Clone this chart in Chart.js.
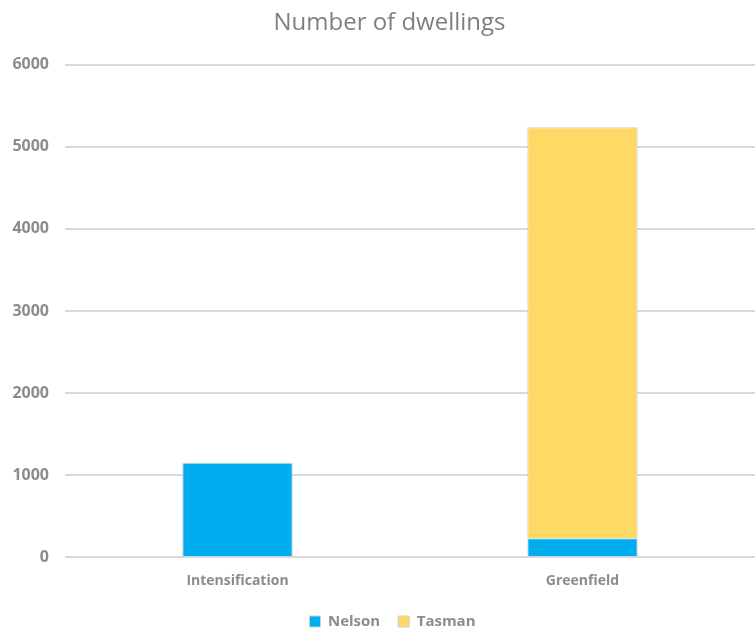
<!DOCTYPE html>
<html lang="en">
<head>
  <meta charset="UTF-8" />
  <title>Number of dwellings</title>
  <script src="https://cdn.jsdelivr.net/npm/chart.js"></script>
  <style>
    html, body { margin: 0; padding: 0; background: #fff; }
    #wrap { width: 755px; height: 633px; }
  </style>
</head>
<body>
  <div id="wrap"><canvas id="dwellChart" width="755" height="633"></canvas></div>

  <script>
    const categories = ['Intensification', 'Greenfield'];
    const nelson = [1150, 230];
    const tasman = [0, 5010];
    const yTicks = [0, 1000, 2000, 3000, 4000, 5000, 6000];

    const grey = '#8c8c8c';
    const fontFamily = '"Open Sans", sans-serif';

    // title and legend in the original sit a bit right of the canvas centre
    const nudge = {
      id: 'nudge',
      afterLayout(chart) {
        if (chart.titleBlock) { chart.titleBlock.left += 12; chart.titleBlock.right += 12; }
        if (chart.legend) { chart.legend.left += 15; chart.legend.right += 15; }
      }
    };

    new Chart(document.getElementById('dwellChart'), {
      type: 'bar',
      data: {
        labels: categories,
        datasets: [
          {
            label: 'Nelson',
            data: nelson,
            backgroundColor: '#00AEEF',
            borderColor: '#cfcfcf',
            borderWidth: 1
          },
          {
            label: 'Tasman',
            data: tasman,
            backgroundColor: '#FFD966',
            borderColor: '#cfcfcf',
            borderWidth: 1
          }
        ]
      },
      plugins: [nudge],
      options: {
        responsive: false,
        animation: false,
        categoryPercentage: 1,
        barPercentage: 0.32,
        layout: { padding: { left: 0, right: 0, top: 0, bottom: -6 } },
        plugins: {
          title: {
            display: true,
            text: 'Number of dwellings',
            color: '#7f7f7f',
            font: { family: fontFamily, size: 24, weight: 'normal' },
            padding: { top: 9, bottom: 27 }
          },
          legend: {
            position: 'bottom',
            labels: {
              color: grey,
              font: { family: fontFamily, size: 15, weight: 'bold' },
              boxWidth: 11,
              boxHeight: 11,
              padding: 18
            }
          },
          tooltip: { enabled: false }
        },
        scales: {
          x: {
            stacked: true,
            grid: { display: false },
            border: { display: false },
            ticks: {
              color: grey,
              font: { family: fontFamily, size: 14, weight: 'bold' },
              padding: 7
            }
          },
          y: {
            stacked: true,
            min: 0,
            max: 6000,
            afterBuildTicks: axis => { axis.ticks = yTicks.map(v => ({ value: v })); },
            afterFit: axis => { axis.width = 65; },
            grid: { color: '#d9d9d9', lineWidth: 2, drawTicks: false },
            border: { display: false },
            ticks: {
              color: grey,
              font: { family: fontFamily, size: 16, weight: 'bold' },
              padding: 16,
              callback: v => String(v)
            }
          }
        }
      }
    });
  </script>
</body>
</html>
